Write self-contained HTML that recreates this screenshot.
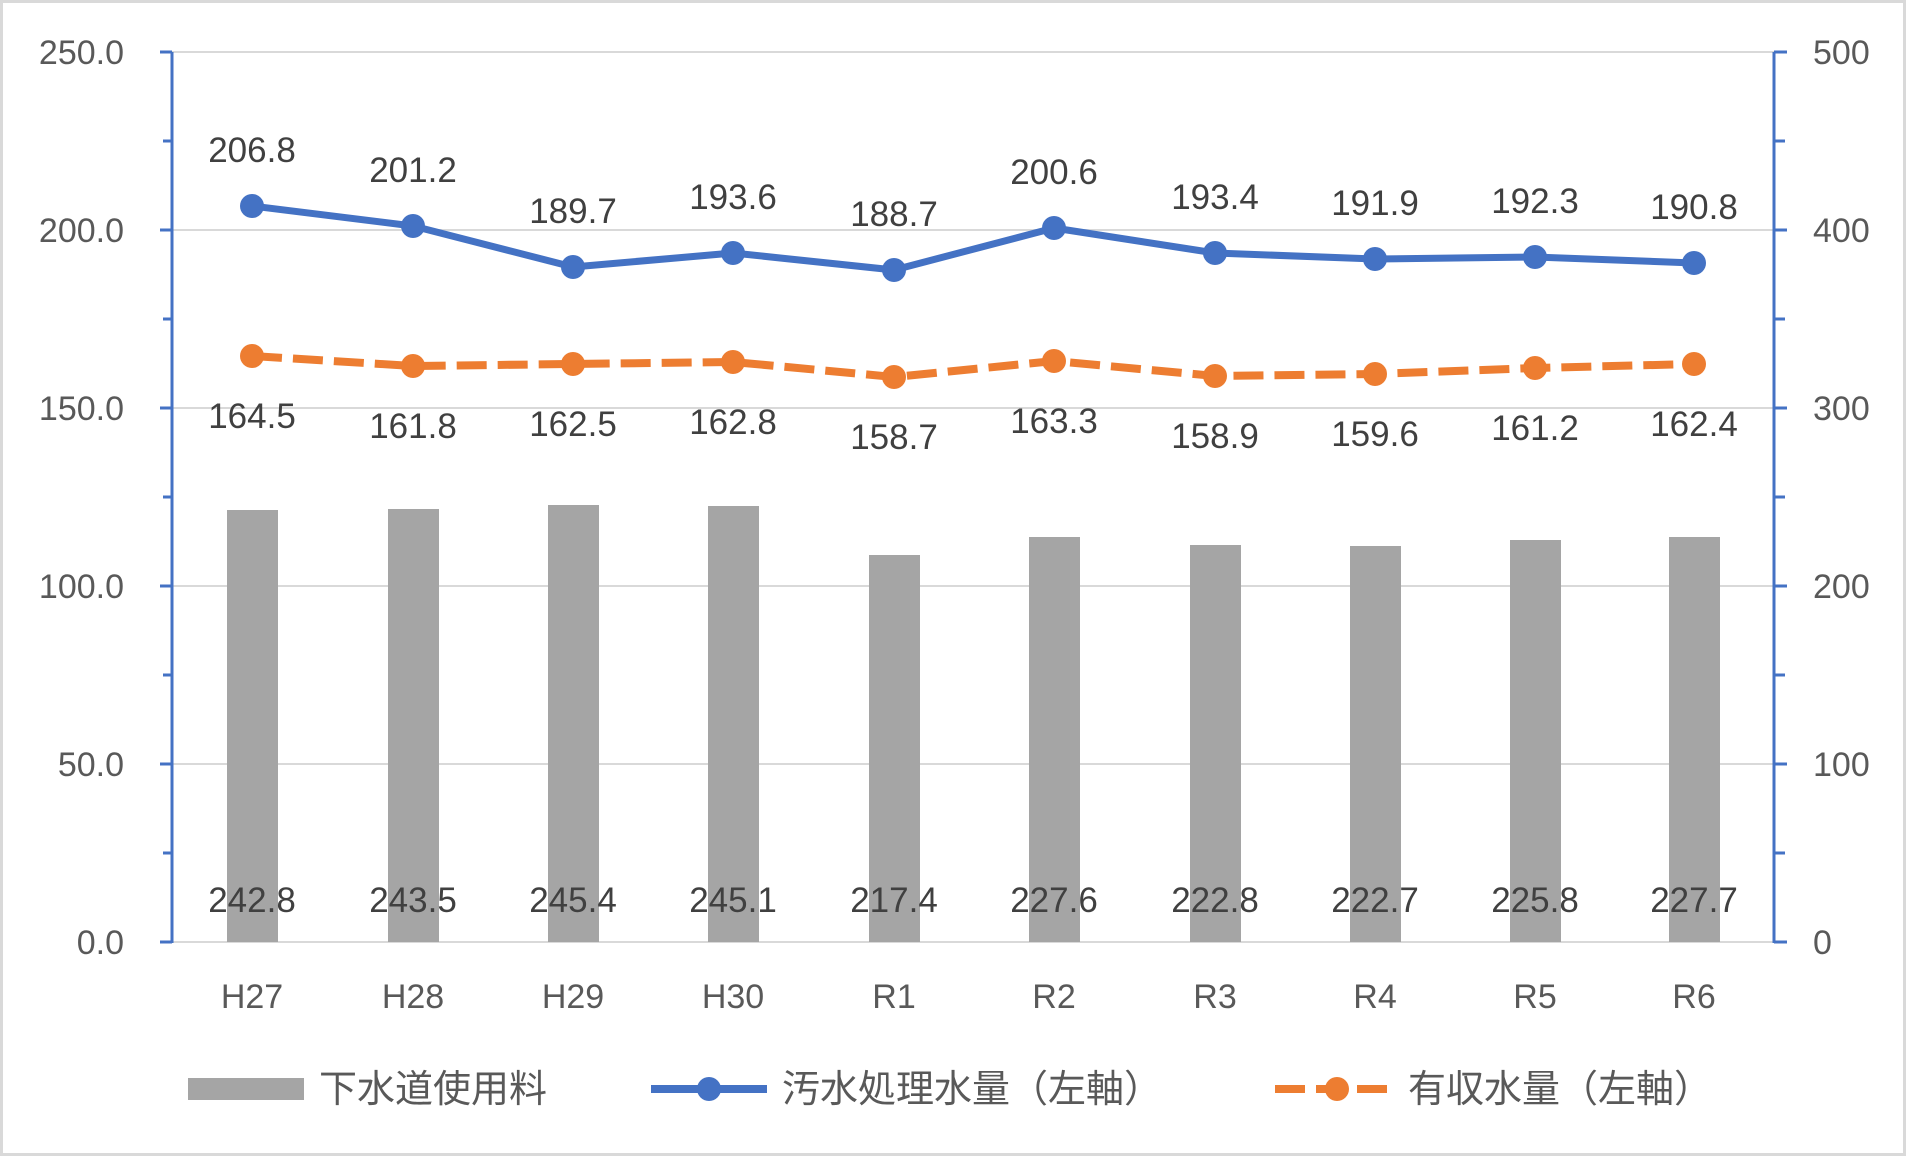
<!DOCTYPE html>
<html><head><meta charset="utf-8"><style>
html,body{margin:0;padding:0;background:#fff;}
svg{display:block;}
text{font-family:"Liberation Sans","Noto Sans CJK JP",sans-serif;}
</style></head><body>
<svg width="1907" height="1157" viewBox="0 0 1907 1157" xmlns="http://www.w3.org/2000/svg">
<rect x="1.5" y="1.5" width="1903" height="1153" fill="#fff" stroke="#d9d9d9" stroke-width="3"/>
<g stroke="#d9d9d9" stroke-width="2">
<line x1="172" y1="52" x2="1774" y2="52"/>
<line x1="172" y1="230" x2="1774" y2="230"/>
<line x1="172" y1="408" x2="1774" y2="408"/>
<line x1="172" y1="586" x2="1774" y2="586"/>
<line x1="172" y1="764" x2="1774" y2="764"/>
<line x1="172" y1="942" x2="1774" y2="942"/>
</g>
<g fill="#a5a5a5">
<rect x="227" y="510" width="51" height="432"/>
<rect x="388" y="509" width="51" height="433"/>
<rect x="548" y="505" width="51" height="437"/>
<rect x="708" y="506" width="51" height="436"/>
<rect x="869" y="555" width="51" height="387"/>
<rect x="1029" y="537" width="51" height="405"/>
<rect x="1190" y="545" width="51" height="397"/>
<rect x="1350" y="546" width="51" height="396"/>
<rect x="1510" y="540" width="51" height="402"/>
<rect x="1669" y="537" width="51" height="405"/>
</g>
<g stroke="#4472c4" stroke-width="3" fill="none">
<line x1="172" y1="52" x2="172" y2="943"/>
<line x1="160" y1="52" x2="172" y2="52"/><line x1="160" y1="230" x2="172" y2="230"/><line x1="160" y1="408" x2="172" y2="408"/><line x1="160" y1="586" x2="172" y2="586"/><line x1="160" y1="764" x2="172" y2="764"/><line x1="160" y1="942" x2="172" y2="942"/>
<line x1="163" y1="141" x2="172" y2="141"/><line x1="163" y1="319" x2="172" y2="319"/><line x1="163" y1="497" x2="172" y2="497"/><line x1="163" y1="675" x2="172" y2="675"/><line x1="163" y1="853" x2="172" y2="853"/>
<line x1="1774" y1="52" x2="1774" y2="943"/>
<line x1="1774" y1="52" x2="1787" y2="52"/><line x1="1774" y1="230" x2="1787" y2="230"/><line x1="1774" y1="408" x2="1787" y2="408"/><line x1="1774" y1="586" x2="1787" y2="586"/><line x1="1774" y1="764" x2="1787" y2="764"/><line x1="1774" y1="942" x2="1787" y2="942"/>
<line x1="1774" y1="141" x2="1785" y2="141"/><line x1="1774" y1="319" x2="1785" y2="319"/><line x1="1774" y1="497" x2="1785" y2="497"/><line x1="1774" y1="675" x2="1785" y2="675"/><line x1="1774" y1="853" x2="1785" y2="853"/>
</g>
<polyline fill="none" stroke="#4472c4" stroke-width="7" stroke-linejoin="round" points="252,206 413,226 573,267 733,253 894,270 1054,228 1215,253 1375,259 1535,257 1694,263"/>
<g fill="#4472c4">
<circle cx="252" cy="206" r="12"/><circle cx="413" cy="226" r="12"/><circle cx="573" cy="267" r="12"/><circle cx="733" cy="253" r="12"/><circle cx="894" cy="270" r="12"/><circle cx="1054" cy="228" r="12"/><circle cx="1215" cy="253" r="12"/><circle cx="1375" cy="259" r="12"/><circle cx="1535" cy="257" r="12"/><circle cx="1694" cy="263" r="12"/>
</g>
<polyline fill="none" stroke="#ed7d31" stroke-width="8" stroke-dasharray="30,11" points="252,356 413,366 573,364 733,362 894,377 1054,361 1215,376 1375,374 1535,368 1694,364"/>
<g fill="#ed7d31">
<circle cx="252" cy="356" r="12"/><circle cx="413" cy="366" r="12"/><circle cx="573" cy="364" r="12"/><circle cx="733" cy="362" r="12"/><circle cx="894" cy="377" r="12"/><circle cx="1054" cy="361" r="12"/><circle cx="1215" cy="376" r="12"/><circle cx="1375" cy="374" r="12"/><circle cx="1535" cy="368" r="12"/><circle cx="1694" cy="364" r="12"/>
</g>
<g font-size="35" fill="#404040" text-anchor="middle">
<text x="252" y="162">206.8</text><text x="413" y="182">201.2</text><text x="573" y="223">189.7</text><text x="733" y="209">193.6</text><text x="894" y="226">188.7</text><text x="1054" y="184">200.6</text><text x="1215" y="209">193.4</text><text x="1375" y="215">191.9</text><text x="1535" y="213">192.3</text><text x="1694" y="219">190.8</text>
<text x="252" y="428">164.5</text><text x="413" y="438">161.8</text><text x="573" y="436">162.5</text><text x="733" y="434">162.8</text><text x="894" y="449">158.7</text><text x="1054" y="433">163.3</text><text x="1215" y="448">158.9</text><text x="1375" y="446">159.6</text><text x="1535" y="440">161.2</text><text x="1694" y="436">162.4</text>
<text x="252" y="912">242.8</text><text x="413" y="912">243.5</text><text x="573" y="912">245.4</text><text x="733" y="912">245.1</text><text x="894" y="912">217.4</text><text x="1054" y="912">227.6</text><text x="1215" y="912">222.8</text><text x="1375" y="912">222.7</text><text x="1535" y="912">225.8</text><text x="1694" y="912">227.7</text>
</g>
<g font-size="34" fill="#595959" text-anchor="middle">
<text x="252" y="1008">H27</text><text x="413" y="1008">H28</text><text x="573" y="1008">H29</text><text x="733" y="1008">H30</text><text x="894" y="1008">R1</text><text x="1054" y="1008">R2</text><text x="1215" y="1008">R3</text><text x="1375" y="1008">R4</text><text x="1535" y="1008">R5</text><text x="1694" y="1008">R6</text>
</g>
<g font-size="34" fill="#595959" text-anchor="end">
<text x="124" y="64">250.0</text><text x="124" y="242">200.0</text><text x="124" y="420">150.0</text><text x="124" y="598">100.0</text><text x="124" y="776">50.0</text><text x="124" y="954">0.0</text>
</g>
<g font-size="34" fill="#595959" text-anchor="start">
<text x="1813" y="64">500</text><text x="1813" y="242">400</text><text x="1813" y="420">300</text><text x="1813" y="598">200</text><text x="1813" y="776">100</text><text x="1813" y="954">0</text>
</g>
<rect x="188" y="1078" width="116" height="22" fill="#a5a5a5"/>
<line x1="651" y1="1089" x2="767" y2="1089" stroke="#4472c4" stroke-width="8"/>
<circle cx="709" cy="1089" r="12" fill="#4472c4"/>
<line x1="1275" y1="1089" x2="1391" y2="1089" stroke="#ed7d31" stroke-width="8" stroke-dasharray="30,11"/>
<circle cx="1337" cy="1089" r="12" fill="#ed7d31"/>
<g font-size="38" fill="#595959">
<text x="319" y="1102">下水道使用料</text>
<text x="782" y="1102">汚水処理水量（左軸）</text>
<text x="1408" y="1102">有収水量（左軸）</text>
</g>
</svg>
</body></html>
